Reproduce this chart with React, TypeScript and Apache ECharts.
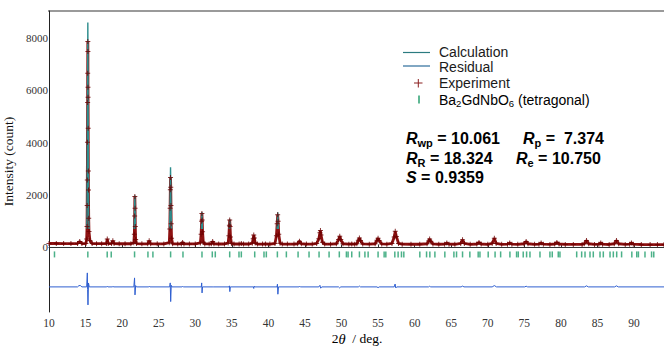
import React, { useEffect, useRef } from 'react';
import * as echarts from 'echarts';

// ---- data ----
// Experimental pattern: [2θ (deg), intensity (count)]
const expPattern: [number, number][] = [
  [10.0, 150], [11.0, 150], [12.0, 148], [13.0, 146], [13.9, 146], [14.2, 225], [14.5, 148], [15.05, 150],
  [15.15, 320], [15.2, 795], [15.22, 1600], [15.24, 2581], [15.26, 4023], [15.28, 5537], [15.29, 6660], [15.31, 7870],
  [15.32, 7490], [15.33, 6126], [15.34, 5744], [15.36, 4558], [15.38, 2925], [15.4, 2199], [15.43, 1117], [15.47, 604], [15.6, 260], [15.9, 148],
  [16.5, 144], [17.2, 142], [17.85, 150], [17.97, 320], [18.1, 150], [18.55, 145], [18.73, 250], [18.9, 145],
  [19.6, 140], [20.4, 139], [21.2, 139], [21.6, 180], [21.67, 500], [21.71, 1200], [21.74, 1950], [21.77, 1500], [21.8, 800], [21.85, 300], [21.97, 145],
  [22.7, 138], [23.5, 137], [23.7, 250], [23.9, 137], [24.8, 136], [25.7, 135], [26.45, 180], [26.52, 700], [26.56, 1500], [26.59, 2200], [26.62, 2670],
  [26.65, 2300], [26.68, 1600], [26.71, 900], [26.76, 350], [26.9, 140],
  [27.6, 134], [28.1, 134], [28.27, 190], [28.45, 134], [29.2, 133], [30.0, 133], [30.7, 170], [30.8, 500], [30.87, 1000], [30.91, 1300], [30.95, 1050], [31.0, 600], [31.1, 200], [31.3, 133],
  [31.9, 132], [32.2, 140], [32.38, 230], [32.55, 140], [33.2, 131], [34.0, 131], [34.5, 170], [34.6, 450], [34.67, 850], [34.71, 1050], [34.76, 800], [34.82, 400], [34.95, 150], [35.3, 131],
  [36.0, 130], [36.3, 145], [36.6, 130], [37.3, 130], [37.8, 160], [37.92, 330], [38.0, 478], [38.08, 360], [38.2, 170], [38.5, 129],
  [39.2, 129], [39.6, 135], [40.2, 128], [40.9, 150], [41.1, 450], [41.2, 900], [41.27, 1250], [41.33, 1000], [41.42, 500], [41.6, 160], [41.9, 128],
  [42.6, 127], [43.5, 127], [44.0, 140], [44.25, 240], [44.5, 140], [45.2, 126], [46.0, 126], [46.6, 150], [46.9, 330], [47.05, 560], [47.12, 643], [47.2, 470], [47.4, 200], [47.7, 126],
  [48.5, 125], [49.3, 140], [49.6, 300], [49.76, 430], [49.9, 300], [50.2, 140], [51.0, 124], [51.4, 135], [51.8, 124], [52.1, 140], [52.3, 270], [52.45, 355], [52.6, 260], [52.9, 135],
  [53.8, 123], [54.6, 140], [54.85, 270], [55.0, 350], [55.15, 260], [55.5, 135], [56.2, 122], [56.9, 150], [57.2, 400], [57.35, 620], [57.5, 420], [57.8, 150], [58.3, 122],
  [59.5, 121], [60.7, 121], [61.7, 140], [61.95, 250], [62.05, 320], [62.2, 240], [62.5, 135], [63.3, 120], [64.1, 125], [64.4, 170], [64.7, 125], [65.5, 120],
  [66.3, 150], [66.55, 290], [66.8, 150], [67.6, 119], [68.5, 130], [68.8, 190], [69.1, 130], [70.0, 118], [70.6, 150], [70.9, 350], [71.15, 150], [71.9, 117],
  [72.7, 125], [73.0, 170], [73.3, 125], [74.1, 117], [74.95, 140], [75.25, 230], [75.5, 140], [76.4, 116], [77.0, 125], [77.3, 170], [77.6, 125], [78.5, 115],
  [79.15, 130], [79.45, 190], [79.75, 130], [80.6, 115], [81.7, 114], [82.9, 114], [83.2, 140], [83.5, 260], [83.8, 140], [84.6, 113], [85.2, 125], [85.45, 170],
  [85.7, 125], [86.6, 112], [87.3, 140], [87.6, 260], [87.9, 140], [88.8, 112], [89.4, 125], [89.65, 170], [89.9, 125],
  [91.0, 111], [92.2, 110], [93.2, 110], [94.1, 110],
];

// Calculated pattern (visible part is the peaks, rest lies under the experimental band)
const calcPattern: [number, number][] = [
  [10.0, 148], [15.1, 150], [15.2, 1200], [15.26, 5000], [15.31, 8600], [15.36, 5000], [15.42, 1200], [15.55, 200], [15.9, 148],
  [21.55, 140], [21.66, 700], [21.74, 1990], [21.82, 700], [21.95, 140],
  [26.45, 140], [26.55, 1500], [26.62, 3067], [26.69, 1500], [26.8, 140],
  [30.75, 133], [30.84, 700], [30.91, 1350], [30.98, 700], [31.1, 133],
  [34.55, 131], [34.64, 600], [34.71, 1080], [34.78, 600], [34.9, 131],
  [41.1, 128], [41.2, 700], [41.28, 1340], [41.36, 700], [41.5, 128],
  [94.1, 110],
];

// Residual (obs - calc), drawn with an offset below the pattern
const residual: [number, number][] = [
  [10, 0], [13.9, 0], [14.1, 50], [14.3, 50], [14.5, 0], [15.15, 0], [15.24, 535], [15.28, -100], [15.33, -689], [15.4, 150], [15.5, 0],
  [17.9, 0], [17.97, 25], [18.05, 0], [18.7, 0], [18.75, 25], [18.85, 0],
  [21.6, 0], [21.7, 344], [21.76, -306], [21.85, 50], [21.95, 0],
  [23.65, 0], [23.72, 25], [23.8, 0],
  [26.5, 0], [26.58, 153], [26.64, -562], [26.72, 60], [26.8, 0],
  [28.2, 0], [28.28, 20], [28.35, 0],
  [30.82, 0], [30.88, 153], [30.93, -230], [31.0, 0],
  [32.3, 0], [32.38, 15], [32.45, 0],
  [34.62, 0], [34.68, 40], [34.73, -180], [34.8, 0],
  [37.95, 0], [38.0, -60], [38.06, 30], [38.12, 0],
  [41.18, 0], [41.24, 103], [41.3, -280], [41.38, 0],
  [44.2, 0], [44.28, 25], [44.36, 0],
  [46.9, 0], [47.05, 60], [47.15, -50], [47.3, 0],
  [49.6, 0], [49.75, -40], [49.9, 0],
  [52.3, 0], [52.45, 30], [52.6, 0],
  [54.85, 0], [55.0, -30], [55.15, 0],
  [57.2, 0], [57.33, 110], [57.42, -40], [57.55, 0],
  [61.9, 0], [62.05, 25], [62.2, 0],
  [66.35, 0], [66.55, 30], [66.75, 0],
  [70.6, 0], [70.9, 50], [71.2, 0],
  [75.05, 0], [75.25, 25], [75.45, 0],
  [83.25, 0], [83.5, 40], [83.75, 0],
  [87.35, 0], [87.6, 40], [87.85, 0],
  [94.1, 0],
];

// Bragg reflection positions (deg)
const braggPos: number[] = [
  10.75, 15.31, 17.96, 18.51, 21.7, 23.53, 24.21, 26.63, 28.32, 30.92, 32.33, 32.74, 34.71, 35.98, 36.3,
  38.13, 39.4, 39.72, 41.23, 42.46, 44.06, 45.56, 46.93, 48.3, 49.7, 50.67, 50.9, 51.4, 52.45, 53.2, 53.64,
  55.0, 55.83, 56.06, 57.29, 57.74, 58.2, 58.52, 60.71, 61.63, 62.08, 62.77, 64.13, 65.37, 65.73, 66.55,
  67.55, 68.69, 68.93, 70.06, 71.0, 71.76, 73.03, 73.94, 74.17, 74.85, 75.31, 75.77, 77.14, 78.5, 78.82,
  79.64, 79.87, 82.16, 82.84, 83.3, 83.98, 84.43, 85.35, 85.8, 86.72, 87.17, 87.63, 88.3, 89.7, 90.37,
  90.6, 91.5, 92.4, 92.7,
];

const legendLabels = ['Calculation', 'Residual', 'Experiment'];
const phaseName = { a: 'Ba', n1: '2', b: 'GdNbO', n2: '6', c: ' (tetragonal)' };
const stats = { Rwp: '10.061', Rp: '7.374', RR: '18.324', Re: '10.750', S: '0.9359' };
const xAxisTitle = { n: '2', t: 'θ', u: '  / deg.' };

// ---- layout / style constants ----
const RES_OFFSET = -1510;
const BRAGG_Y = -268;
const CALC_VISIBLE_FROM = 700; // calc line shows above the experimental band from this level
const SERIF = '"Liberation Serif", "Times New Roman", serif';
const SANS = '"Liberation Sans", Arial, sans-serif';
const C_EXP = '#8e1212';
const C_EXP_MARK = '#6a0000';
const C_CALC = '#2c8c8c';
const C_RES = '#2f5fd0';
const C_BRAGG = '#1f9d6b';
const CROSS = 'path://M0,4H10V6H0ZM4,0H6V10H4Z';

export default function App() {
  const ref = useRef<HTMLDivElement>(null);

  useEffect(() => {
    if (!ref.current) return;
    const chart = echarts.init(ref.current, undefined, { renderer: 'svg' });

    const calcMax = Math.max(...calcPattern.map((d) => d[1]));
    const calcMin = Math.min(...calcPattern.map((d) => d[1]));
    const cut = (calcMax - CALC_VISIBLE_FROM) / (calcMax - calcMin);
    const calcColor = new echarts.graphic.LinearGradient(0, 0, 0, 1, [
      { offset: 0, color: C_CALC },
      { offset: cut, color: C_CALC },
      { offset: cut + 0.0001, color: 'rgba(44,140,140,0)' },
      { offset: 1, color: 'rgba(44,140,140,0)' },
    ]);

    const statRich = {
      R: { fontFamily: SANS, fontWeight: 'bold', fontStyle: 'italic', fontSize: 16, color: '#000' },
      s: { fontFamily: SANS, fontWeight: 'bold', fontSize: 11, padding: [9, 0, 0, 0], color: '#000' },
      v: { fontFamily: SANS, fontWeight: 'bold', fontSize: 16, color: '#000' },
    };
    const legRich = {
      a: { fontFamily: SANS, fontSize: 14, color: '#1a1a1a' },
      b: { fontFamily: SANS, fontSize: 9.5, padding: [7, 0, 0, 0], color: '#1a1a1a' },
    };
    const legText = (text: string, x: number, y: number) => ({
      type: 'text', x, y,
      style: { text, fontFamily: SANS, fontSize: 14, fill: '#1a1a1a', verticalAlign: 'middle', align: 'left' },
    });
    const statText = (text: string, x: number, y: number) => ({
      type: 'text', x, y,
      style: { text, rich: statRich, verticalAlign: 'middle', align: 'left' },
    });

    const option: any = {
      animation: false,
      grid: { left: 49, right: 0, top: 11, bottom: 35, containLabel: false, outerBoundsMode: 'none' },
      xAxis: {
        type: 'value', min: 10, max: 94.1, interval: 5,
        axisLine: { show: true, lineStyle: { color: '#333', width: 1 } },
        axisTick: { show: true, inside: true, length: 3, lineStyle: { color: '#333' } },
        axisLabel: {
          formatter: (v: number) => (Math.abs(v % 5) < 1e-9 ? String(v) : ''),
          fontFamily: SERIF, fontSize: 11.5, color: '#333', margin: 5,
        },
        splitLine: { show: false },
      },
      yAxis: {
        type: 'value', min: -2470, max: 9040,
        name: 'Intensity (count)', nameLocation: 'middle', nameGap: 26,
        nameTextStyle: { fontFamily: SERIF, fontSize: 13.5, color: '#111' },
        axisLine: { show: true, lineStyle: { color: '#222', width: 1 } },
        axisTick: { show: false },
        axisLabel: {
          formatter: (v: number) => (v >= 0 && v % 2000 === 0 ? String(v) : ''),
          fontFamily: SERIF, fontSize: 11, color: '#333', margin: 1,
        },
        splitLine: { show: false },
      },
      series: [
        {
          name: 'Experiment line', type: 'line', data: expPattern, showSymbol: false, silent: true,
          lineStyle: { color: C_EXP, width: 2.8 }, z: 2,
        },
        {
          name: 'Calculation', type: 'line', data: calcPattern, showSymbol: false, silent: true,
          lineStyle: { color: calcColor, width: 1.4 }, z: 3,
        },
        {
          name: 'Experiment', type: 'scatter', data: expPattern, symbol: CROSS, symbolSize: 5, silent: true,
          itemStyle: { color: C_EXP_MARK }, z: 4,
        },
        {
          name: 'Residual', type: 'line', data: residual.map(([x, r]) => [x, r + RES_OFFSET]),
          showSymbol: false, silent: true, lineStyle: { color: C_RES, width: 1 }, z: 2,
        },
        {
          name: 'Bragg', type: 'scatter', data: braggPos.map((p) => [p, BRAGG_Y]), symbol: 'rect',
          symbolSize: [1.5, 6], silent: true, itemStyle: { color: C_BRAGG }, z: 2,
        },
      ],
      graphic: [
        { type: 'line', shape: { x1: 48, y1: 11, x2: 664, y2: 11 }, style: { stroke: '#9a9a9a', lineWidth: 2 } },
        // x axis title
        {
          type: 'text', x: 357, y: 338.5,
          style: {
            text: `{n|${xAxisTitle.n}}{t|${xAxisTitle.t}}{n|${xAxisTitle.u}}`,
            rich: {
              n: { fontFamily: SERIF, fontSize: 13.5, color: '#111' },
              t: { fontFamily: SERIF, fontStyle: 'italic', fontSize: 14.5, color: '#111' },
            },
            align: 'center', verticalAlign: 'middle',
          },
        },
        // legend
        { type: 'line', shape: { x1: 403, y1: 52.5, x2: 430, y2: 52.5 }, style: { stroke: '#2b7b80', lineWidth: 1.2 } },
        legText(legendLabels[0], 439, 52),
        { type: 'line', shape: { x1: 403, y1: 66, x2: 430, y2: 66 }, style: { stroke: '#2d6c9a', lineWidth: 1.2 } },
        legText(legendLabels[1], 439, 67),
        { type: 'line', shape: { x1: 414, y1: 83, x2: 422.5, y2: 83 }, style: { stroke: '#8b2020', lineWidth: 1 } },
        { type: 'line', shape: { x1: 418.3, y1: 79, x2: 418.3, y2: 87.5 }, style: { stroke: '#8b2020', lineWidth: 1 } },
        legText(legendLabels[2], 439, 83),
        { type: 'line', shape: { x1: 419, y1: 95.5, x2: 419, y2: 103.5 }, style: { stroke: '#2aa070', lineWidth: 1.5 } },
        {
          type: 'text', x: 439, y: 100,
          style: {
            text: `{a|${phaseName.a}}{b|${phaseName.n1}}{a|${phaseName.b}}{b|${phaseName.n2}}{a|${phaseName.c}}`,
            rich: legRich, verticalAlign: 'middle', align: 'left',
          },
        },
        // statistics
        statText(`{R|R}{s|wp}{v| = ${stats.Rwp}}`, 406, 138),
        statText(`{R|R}{s|p}{v| =  ${stats.Rp}}`, 523, 138),
        statText(`{R|R}{s|R}{v| = ${stats.RR}}`, 406, 158),
        statText(`{R|R}{s|e}{v| = ${stats.Re}}`, 516, 158),
        statText(`{R|S}{v| = ${stats.S}}`, 406, 177),
      ],
    };

    chart.setOption(option);
    return () => chart.dispose();
  }, []);

  return (
    <div
      ref={ref}
      style={{ position: 'fixed', left: 0, top: 0, width: 664, height: 347, background: '#fff' }}
    />
  );
}
